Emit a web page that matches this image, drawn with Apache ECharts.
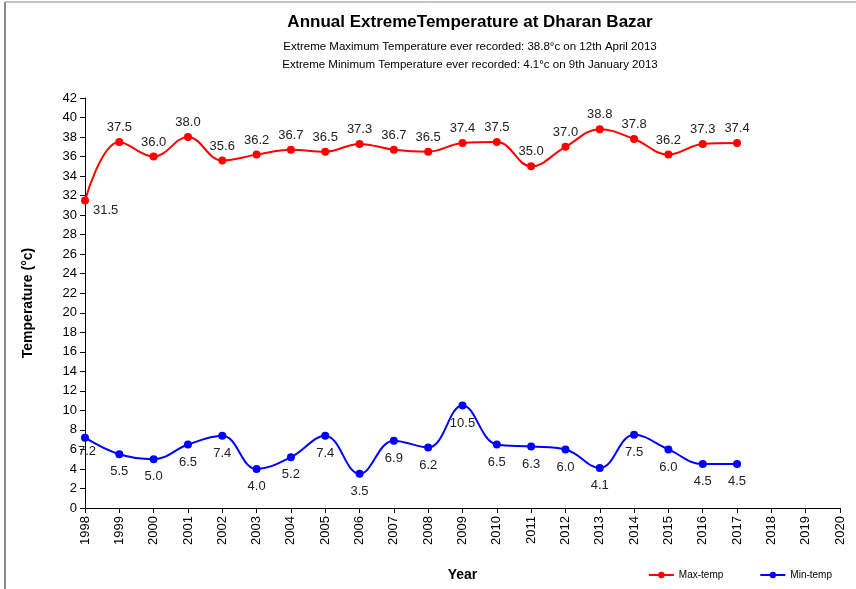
<!DOCTYPE html>
<html>
<head>
<meta charset="utf-8">
<script src="https://cdn.jsdelivr.net/npm/echarts@6/dist/echarts.min.js"></script>
<style>
  html, body { margin: 0; padding: 0; background: #fff; }
  #main { width: 856px; height: 589px; }
</style>
</head>
<body>
<div id="main"></div>
<script>
// years on the axis (data stops at 2017)
var years = ['1998', '1999', '2000', '2001', '2002', '2003', '2004', '2005', '2006', '2007',
  '2008', '2009', '2010', '2011', '2012', '2013', '2014', '2015', '2016', '2017',
  '2018', '2019', '2020'];
var maxTemp = [31.5, 37.5, 36.0, 38.0, 35.6, 36.2, 36.7, 36.5, 37.3, 36.7,
  36.5, 37.4, 37.5, 35.0, 37.0, 38.8, 37.8, 36.2, 37.3, 37.4];
var minTemp = [7.2, 5.5, 5.0, 6.5, 7.4, 4.0, 5.2, 7.4, 3.5, 6.9,
  6.2, 10.5, 6.5, 6.3, 6.0, 4.1, 7.5, 6.0, 4.5, 4.5];

var chart = echarts.init(document.getElementById('main'));

function labelFmt(p) { return p.value.toFixed(1); }

// first point labels sit to the lower right in the original
var maxData = maxTemp.map(function (v, i) {
  if (i === 0) return { value: v, label: { position: 'right', offset: [0, 10] } };
  return v;
});
var minData = minTemp.map(function (v, i) {
  if (i === 0) return { value: v, label: { position: 'bottom', offset: [2, -4] } };
  return v;
});

chart.setOption({
  animation: false,
  textStyle: { fontFamily: 'Liberation Sans, Arial, sans-serif' },
  graphic: [
    { type: 'line', shape: { x1: 5, y1: 2, x2: 5, y2: 589 }, style: { stroke: '#888', lineWidth: 2 } },
    { type: 'line', shape: { x1: 5, y1: 2, x2: 856, y2: 2 }, style: { stroke: '#888', lineWidth: 1 } }
  ],
  title: [
    {
      text: 'Annual ExtremeTemperature at Dharan Bazar',
      left: 465, top: 9, textAlign: 'center',
      textStyle: { fontSize: 17, fontWeight: 'bold', color: '#000' }
    },
    {
      text: 'Extreme Maximum Temperature ever recorded: 38.8°c on 12th April 2013',
      left: 465, top: 36, textAlign: 'center',
      textStyle: { fontSize: 11.5, fontWeight: 'normal', color: '#000' }
    },
    {
      text: 'Extreme Minimum Temperature ever recorded: 4.1°c on 9th January 2013',
      left: 465, top: 54, textAlign: 'center',
      textStyle: { fontSize: 11.5, fontWeight: 'normal', color: '#000' }
    }
  ],
  legend: {
    right: 19, bottom: 4,
    itemWidth: 25, itemHeight: 8, itemGap: 36,
    textStyle: { fontSize: 10, color: '#000' },
    data: ['Max-temp', 'Min-temp']
  },
  grid: { left: 85, right: 16, top: 98, bottom: 81, containLabel: false },
  xAxis: {
    type: 'category',
    data: years,
    boundaryGap: false,
    name: 'Year',
    nameLocation: 'middle',
    nameGap: 60,
    nameTextStyle: { fontSize: 14, fontWeight: 'bold', color: '#000' },
    axisLine: { lineStyle: { color: '#000' } },
    axisTick: { alignWithLabel: true, length: 5, lineStyle: { color: '#000' } },
    axisLabel: { rotate: 90, fontSize: 13, color: '#000', interval: 0, margin: 8 },
    splitLine: { show: false }
  },
  yAxis: {
    type: 'value',
    min: 0, max: 42, interval: 2,
    name: 'Temperature (°c)',
    nameLocation: 'middle',
    nameGap: 50,
    nameTextStyle: { fontSize: 14, fontWeight: 'bold', color: '#000' },
    axisLine: { show: true, lineStyle: { color: '#000' } },
    axisTick: { show: true, length: 5, lineStyle: { color: '#000' } },
    axisLabel: { fontSize: 13, color: '#000', margin: 8 },
    splitLine: { show: false }
  },
  series: [
    {
      name: 'Max-temp',
      type: 'line',
      smooth: 0.4,
      data: maxData,
      symbol: 'circle',
      symbolSize: 8,
      itemStyle: { color: '#ff0000' },
      lineStyle: { color: '#ff0000', width: 2 },
      label: { show: true, position: 'top', distance: 4, fontSize: 13, color: '#222', formatter: labelFmt }
    },
    {
      name: 'Min-temp',
      type: 'line',
      smooth: 0.4,
      data: minData,
      symbol: 'circle',
      symbolSize: 8,
      itemStyle: { color: '#0000ff' },
      lineStyle: { color: '#0000ff', width: 2 },
      label: { show: true, position: 'bottom', distance: 7, fontSize: 13, color: '#222', formatter: labelFmt }
    }
  ]
});
</script>
</body>
</html>
